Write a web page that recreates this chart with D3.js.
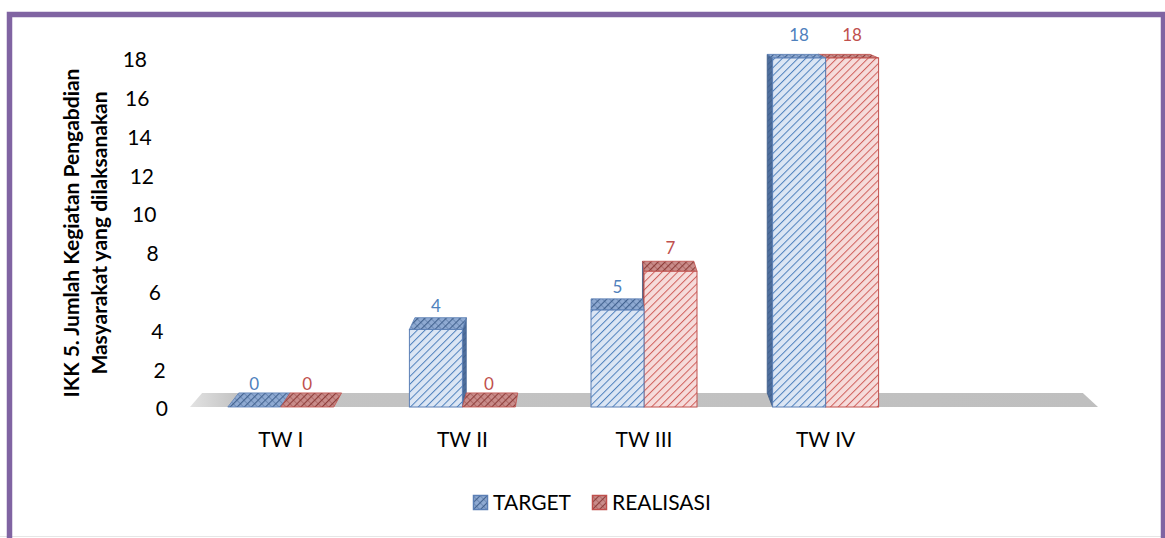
<!DOCTYPE html>
<html>
<head>
<meta charset="utf-8">
<script src="https://cdn.jsdelivr.net/npm/d3@7"></script>
<style>
  body { margin: 0; background: #fff; }
  text { font-family: Lato, "Noto Sans", sans-serif; }
</style>
</head>
<body>
<svg id="chart"></svg>
<script>
var width = 1165,
    height = 538;

// data
var categories = ["TW I", "TW II", "TW III", "TW IV"];
var target = [0, 4, 5, 18];
var realisasi = [0, 0, 7, 18];
var yTicks = [0, 2, 4, 6, 8, 10, 12, 14, 16, 18];
var seriesNames = ["TARGET", "REALISASI"];
var titleLines = ["IKK 5. Jumlah Kegiatan Pengabdian", "Masyarakat yang dilaksanakan"];

var colors = [
  { key: "t", line: "#4F81BD", light: "#DCE6F4", top: "#8FAAD2", topLine: "#42628F", side: "#4E6E9C", stroke: "#5B7FB5", label: "#4F81BD" },
  { key: "r", line: "#D0605C", light: "#F6DCDB", top: "#C98C8A", topLine: "#8E3E3B", side: "#A85654", stroke: "#C0504D", label: "#C0504D" }
];

// 3d look: a vanishing point and how far back the depth plane sits
var vp = { x: 593, y: -63 },
    depthScale = 0.97,
    barW = 53;

function back(p) {
  return [vp.x + depthScale * (p[0] - vp.x), vp.y + depthScale * (p[1] - vp.y)];
}

var svg = d3.select("#chart").attr("width", width).attr("height", height);
var defs = svg.append("defs");

colors.forEach(function(c) {
  function hatch(id, bg, line, w, size, cross) {
    var p = defs.append("pattern").attr("id", id)
      .attr("patternUnits", "userSpaceOnUse")
      .attr("width", size).attr("height", size)
      .attr("patternTransform", "rotate(45)");
    p.append("rect").attr("width", size).attr("height", size).attr("fill", bg);
    p.append("line").attr("x1", 0.5).attr("y1", 0).attr("x2", 0.5).attr("y2", size)
      .attr("stroke", line).attr("stroke-width", w);
    if (cross) {
      p.append("line").attr("x1", 0).attr("y1", 0.5).attr("x2", size).attr("y2", 0.5)
        .attr("stroke", line).attr("stroke-width", w * 0.6).attr("stroke-opacity", 0.6);
    }
  }
  hatch("front-" + c.key, c.light, c.line, 1, 5.5, false);
  hatch("top-" + c.key, c.top, c.topLine, 1.2, 5, true);
  hatch("side-" + c.key, c.side, c.topLine, 1, 4, false);
});

var floorGrad = defs.append("linearGradient").attr("id", "floor-grad");
floorGrad.append("stop").attr("offset", "0%").attr("stop-color", "#E2E2E2");
floorGrad.append("stop").attr("offset", "5%").attr("stop-color", "#C4C4C4");
floorGrad.append("stop").attr("offset", "100%").attr("stop-color", "#BFBFBF");

// frame
svg.append("line").attr("x1", 0).attr("x2", width).attr("y1", 536.5).attr("y2", 536.5)
  .attr("stroke", "#E6E6E6").attr("stroke-width", 1);
svg.append("path")
  .attr("d", "M9.5,538 V14.5 H1163.5 V538")
  .attr("fill", "none").attr("stroke", "#8064A2").attr("stroke-width", 5.5);

// excel keeps an empty fifth slot at the right end of the floor
var x = d3.scaleBand().domain(categories.concat([""])).range([190, 1098]);
var y = d3.scaleLinear().domain([0, 18]).range([407, 58]);
var labelX = d3.scaleLinear().domain([0, 18]).range([168, 147]);

// floor
var fl = [[x.range()[0], y(0)], [x.range()[1], y(0)]];
svg.append("path")
  .attr("d", d3.line()([fl[0], fl[1], back(fl[1]), back(fl[0])]) + "Z")
  .attr("fill", "url(#floor-grad)");

// bars
var bars = [];
categories.forEach(function(cat, i) {
  var cx = x(cat) + x.bandwidth() / 2;
  [target[i], realisasi[i]].forEach(function(v, s) {
    bars.push({ cat: cat, s: s, v: v, x0: cx - barW + s * barW, x1: cx + s * barW });
  });
});
bars.sort(function(a, b) {
  return Math.abs((b.x0 + b.x1) / 2 - vp.x) - Math.abs((a.x0 + a.x1) / 2 - vp.x);
});

var line = d3.line();
var barG = svg.append("g").selectAll("g").data(bars).enter().append("g");

barG.each(function(d) {
  var g = d3.select(this),
      c = colors[d.s],
      yt = y(d.v),
      yb = y(0);
  var tl = [d.x0, yt], tr = [d.x1, yt], bl = [d.x0, yb], br = [d.x1, yb];
  if (d.x1 < vp.x && d.v > 0) {
    g.append("path").attr("d", line([tr, br, back(br), back(tr)]) + "Z")
      .attr("fill", "url(#side-" + c.key + ")").attr("stroke", c.side).attr("stroke-width", 0.8);
  }
  if (d.x0 > vp.x && d.v > 0) {
    g.append("path").attr("d", line([tl, bl, back(bl), back(tl)]) + "Z")
      .attr("fill", "url(#side-" + c.key + ")").attr("stroke", "#3E5C88").attr("stroke-width", 0.8);
  }
  g.append("path").attr("d", line([tl, tr, back(tr), back(tl)]) + "Z")
    .attr("fill", "url(#top-" + c.key + ")").attr("stroke", c.stroke).attr("stroke-width", 0.8);
  if (d.v > 0) {
    g.append("rect").attr("x", d.x0).attr("y", yt).attr("width", d.x1 - d.x0).attr("height", yb - yt)
      .attr("fill", "url(#front-" + c.key + ")").attr("stroke", c.stroke).attr("stroke-width", 1);
  }
});

// value labels
svg.append("g").selectAll("text").data(bars).enter().append("text")
  .attr("x", function(d) { return (d.x0 + d.x1) / 2; })
  .attr("y", function(d) { return y(d.v) - 17; })
  .attr("text-anchor", "middle")
  .attr("font-size", 17)
  .attr("fill", function(d) { return colors[d.s].label; })
  .text(function(d) { return d.v; });

// y axis labels, slanted like the 3d wall
var yAxis = svg.append("g").call(d3.axisLeft(y).tickValues(yTicks).tickSize(0));
yAxis.select(".domain").remove();
yAxis.selectAll(".tick")
  .attr("transform", function(d) { return "translate(" + labelX(d) + "," + (y(d) + 2) + ")"; });
yAxis.selectAll(".tick text")
  .attr("x", 0).attr("dy", "0.35em")
  .attr("font-family", "Lato, sans-serif").attr("font-size", 21).attr("fill", "#000");

// category labels
var xAxis = svg.append("g").attr("transform", "translate(0,447)")
  .call(d3.axisBottom(x).tickValues(categories).tickSize(0));
xAxis.select(".domain").remove();
xAxis.selectAll(".tick text")
  .attr("y", 0).attr("dy", 0)
  .attr("font-family", "Lato, sans-serif").attr("font-size", 21).attr("fill", "#000");

// axis title
svg.append("g").attr("transform", "translate(79,233) rotate(-90)")
  .selectAll("text").data(titleLines).enter().append("text")
  .attr("x", 0).attr("y", function(d, i) { return i * 28; })
  .attr("text-anchor", "middle")
  .attr("font-weight", "bold").attr("font-size", 21).attr("fill", "#000")
  .text(function(d) { return d; });

// legend
var legend = svg.append("g").selectAll("g").data(seriesNames).enter().append("g")
  .attr("transform", function(d, i) { return "translate(" + [473, 592][i] + ",495)"; });
legend.append("rect").attr("x", 0.5).attr("y", 0.5).attr("width", 14).attr("height", 14)
  .attr("fill", function(d, i) { return "url(#top-" + colors[i].key + ")"; })
  .attr("stroke", function(d, i) { return colors[i].stroke; }).attr("stroke-width", 1.5);
legend.append("text").attr("x", 20).attr("y", 15)
  .attr("font-size", 21).attr("fill", "#000")
  .text(function(d) { return d; });
</script>
</body>
</html>
